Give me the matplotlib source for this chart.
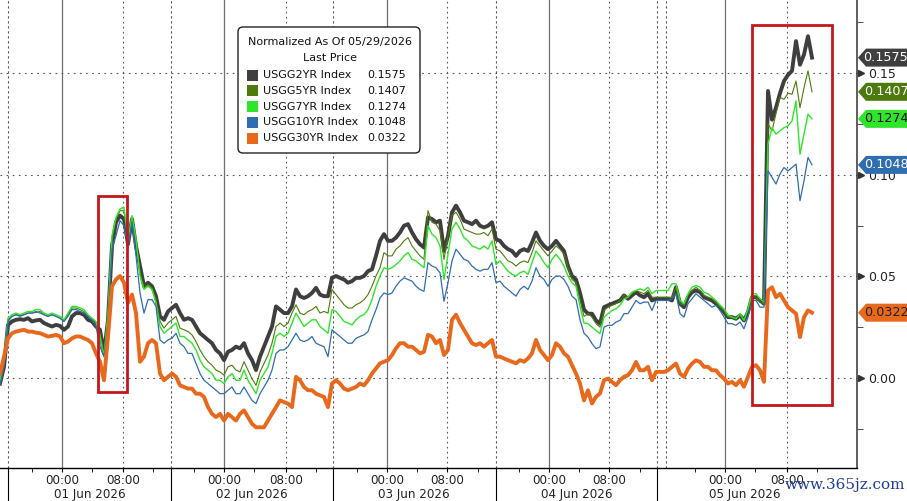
import numpy as np
import matplotlib
matplotlib.use("Agg")
import matplotlib.pyplot as plt
from matplotlib.patches import Rectangle, FancyBboxPatch, Polygon
import matplotlib.transforms as mtransforms

# ---------------- data (normalized yield change, sampled on a session-time grid) ----------------
series_names = ["USGG2YR Index", "USGG5YR Index", "USGG7YR Index", "USGG10YR Index", "USGG30YR Index"]
last_prices = [0.1575, 0.1407, 0.1274, 0.1048, 0.0322]

usgg2yr = [
    -0.0026, 0.0056, 0.0262, 0.0279, 0.0287, 0.0290, 0.0287, 0.0295, 0.0279, 0.0284, 0.0287, 0.0271, 0.0262,
    0.0254, 0.0262, 0.0257, 0.0238, 0.0254, 0.0304, 0.0320, 0.0320, 0.0312, 0.0287, 0.0279, 0.0254,
    0.0238, 0.0122, 0.0287, 0.0650, 0.0766, 0.0799, 0.0782, 0.0658, 0.0782, 0.0650, 0.0551, 0.0452, 0.0469,
    0.0452, 0.0403, 0.0304, 0.0287, 0.0328, 0.0345, 0.0361, 0.0320, 0.0287, 0.0295, 0.0287, 0.0254, 0.0221,
    0.0205, 0.0188, 0.0172, 0.0139, 0.0122, 0.0089, 0.0130, 0.0139, 0.0155, 0.0147, 0.0172, 0.0122, 0.0089,
    0.0040, 0.0106, 0.0155, 0.0205, 0.0254, 0.0353, 0.0337, 0.0320, 0.0320, 0.0353, 0.0436, 0.0403,
    0.0394, 0.0403, 0.0419, 0.0444, 0.0411, 0.0403, 0.0403, 0.0493, 0.0502, 0.0493, 0.0485, 0.0469, 0.0477,
    0.0493, 0.0493, 0.0502, 0.0526, 0.0535, 0.0601, 0.0675, 0.0708, 0.0675, 0.0675, 0.0691, 0.0716, 0.0749,
    0.0757, 0.0716, 0.0683, 0.0658, 0.0642, 0.0790, 0.0782, 0.0766, 0.0774, 0.0625, 0.0700, 0.0815, 0.0848,
    0.0815, 0.0774, 0.0766, 0.0757, 0.0774, 0.0749, 0.0741, 0.0749, 0.0766, 0.0683, 0.0675, 0.0650, 0.0634,
    0.0625, 0.0601, 0.0625, 0.0634, 0.0625, 0.0667, 0.0716, 0.0675, 0.0650, 0.0634, 0.0650, 0.0675, 0.0650,
    0.0625, 0.0551, 0.0502, 0.0485, 0.0419, 0.0337,
    0.0317, 0.0317, 0.0284, 0.0268, 0.0349, 0.0358, 0.0366, 0.0374, 0.0382, 0.0407, 0.0390, 0.0407, 0.0423,
    0.0407, 0.0398, 0.0415, 0.0382, 0.0390, 0.0390, 0.0390, 0.0390, 0.0382, 0.0447, 0.0366, 0.0349, 0.0398,
    0.0423, 0.0431, 0.0423, 0.0398, 0.0390, 0.0382, 0.0366, 0.0349, 0.0325, 0.0300, 0.0300, 0.0292, 0.0309,
    0.0284, 0.0325, 0.0398, 0.0398, 0.0382, 0.0366, 0.1411, 0.1270, 0.1330, 0.1400, 0.1460, 0.1490, 0.1510,
    0.1656, 0.1540, 0.1590, 0.1680, 0.1575,
]

usgg5yr = [
    -0.0018, 0.0081, 0.0287, 0.0304, 0.0312, 0.0307, 0.0312, 0.0320, 0.0320, 0.0323, 0.0328, 0.0312, 0.0304,
    0.0312, 0.0304, 0.0295, 0.0279, 0.0312, 0.0345, 0.0345, 0.0337, 0.0328, 0.0304, 0.0287, 0.0271,
    0.0221, 0.0114, 0.0304, 0.0683, 0.0782, 0.0823, 0.0823, 0.0675, 0.0790, 0.0667, 0.0518, 0.0444, 0.0460,
    0.0444, 0.0386, 0.0279, 0.0246, 0.0271, 0.0287, 0.0304, 0.0246, 0.0238, 0.0229, 0.0213, 0.0180, 0.0139,
    0.0106, 0.0081, 0.0064, 0.0040, 0.0031, 0.0015, 0.0056, 0.0064, 0.0040, 0.0031, 0.0081, 0.0040, -0.0002,
    -0.0035, 0.0031, 0.0073, 0.0114, 0.0172, 0.0254, 0.0271, 0.0254, 0.0271, 0.0320, 0.0361, 0.0320,
    0.0312, 0.0328, 0.0337, 0.0353, 0.0320, 0.0328, 0.0320, 0.0436, 0.0411, 0.0386, 0.0361, 0.0345, 0.0345,
    0.0361, 0.0370, 0.0386, 0.0411, 0.0452, 0.0502, 0.0543, 0.0617, 0.0601, 0.0601, 0.0634, 0.0650, 0.0675,
    0.0691, 0.0650, 0.0625, 0.0601, 0.0584, 0.0823, 0.0766, 0.0757, 0.0724, 0.0584, 0.0700, 0.0799, 0.0815,
    0.0782, 0.0733, 0.0724, 0.0716, 0.0708, 0.0708, 0.0716, 0.0700, 0.0733, 0.0634, 0.0625, 0.0601, 0.0576,
    0.0568, 0.0551, 0.0568, 0.0576, 0.0568, 0.0617, 0.0675, 0.0650, 0.0625, 0.0601, 0.0625, 0.0650, 0.0634,
    0.0609, 0.0543, 0.0485, 0.0469, 0.0386, 0.0304,
    0.0317, 0.0300, 0.0268, 0.0251, 0.0333, 0.0349, 0.0358, 0.0366, 0.0382, 0.0407, 0.0398, 0.0415, 0.0431,
    0.0423, 0.0415, 0.0431, 0.0398, 0.0398, 0.0398, 0.0398, 0.0398, 0.0398, 0.0447, 0.0366, 0.0358, 0.0407,
    0.0431, 0.0447, 0.0431, 0.0407, 0.0398, 0.0390, 0.0374, 0.0349, 0.0333, 0.0300, 0.0300, 0.0292, 0.0309,
    0.0284, 0.0333, 0.0398, 0.0398, 0.0374, 0.0366, 0.1250, 0.1215, 0.1300, 0.1380, 0.1370, 0.1400, 0.1395,
    0.1460, 0.1329, 0.1427, 0.1510, 0.1407,
]

usgg7yr = [
    -0.0010, 0.0089, 0.0295, 0.0312, 0.0320, 0.0312, 0.0320, 0.0328, 0.0328, 0.0337, 0.0337, 0.0320, 0.0312,
    0.0320, 0.0312, 0.0304, 0.0287, 0.0320, 0.0353, 0.0353, 0.0345, 0.0337, 0.0312, 0.0295, 0.0279,
    0.0205, 0.0106, 0.0320, 0.0700, 0.0790, 0.0832, 0.0840, 0.0683, 0.0799, 0.0683, 0.0502, 0.0436, 0.0452,
    0.0436, 0.0370, 0.0254, 0.0221, 0.0238, 0.0254, 0.0271, 0.0205, 0.0205, 0.0188, 0.0172, 0.0139, 0.0089,
    0.0056, 0.0040, 0.0023, -0.0010, -0.0010, -0.0026, 0.0007, 0.0023, -0.0010, -0.0010, 0.0040, -0.0010,
    -0.0043, -0.0076, -0.0010, 0.0023, 0.0056, 0.0122, 0.0205, 0.0221, 0.0205, 0.0221, 0.0271, 0.0320, 0.0287,
    0.0254, 0.0271, 0.0287, 0.0287, 0.0254, 0.0238, 0.0221, 0.0337, 0.0328, 0.0304, 0.0279, 0.0271, 0.0262,
    0.0287, 0.0304, 0.0312, 0.0337, 0.0386, 0.0452, 0.0502, 0.0543, 0.0535, 0.0543, 0.0559, 0.0576, 0.0601,
    0.0617, 0.0584, 0.0576, 0.0559, 0.0543, 0.0749, 0.0708, 0.0691, 0.0650, 0.0485, 0.0609, 0.0733, 0.0766,
    0.0733, 0.0691, 0.0675, 0.0650, 0.0642, 0.0634, 0.0650, 0.0634, 0.0675, 0.0559, 0.0576, 0.0551, 0.0526,
    0.0510, 0.0502, 0.0518, 0.0526, 0.0510, 0.0568, 0.0625, 0.0601, 0.0568, 0.0543, 0.0584, 0.0609, 0.0584,
    0.0551, 0.0502, 0.0469, 0.0452, 0.0353, 0.0271,
    0.0268, 0.0251, 0.0235, 0.0219, 0.0300, 0.0317, 0.0333, 0.0341, 0.0358, 0.0390, 0.0398, 0.0423, 0.0431,
    0.0439, 0.0431, 0.0447, 0.0415, 0.0431, 0.0431, 0.0431, 0.0431, 0.0464, 0.0464, 0.0382, 0.0366, 0.0415,
    0.0447, 0.0456, 0.0447, 0.0423, 0.0415, 0.0398, 0.0382, 0.0358, 0.0341, 0.0309, 0.0300, 0.0292, 0.0317,
    0.0284, 0.0341, 0.0415, 0.0415, 0.0390, 0.0374, 0.1150, 0.1231, 0.1199, 0.1215, 0.1231, 0.1239, 0.1264,
    0.1362, 0.1101, 0.1199, 0.1297, 0.1274,
]

usgg10yr = [
    -0.0035, 0.0056, 0.0279, 0.0304, 0.0312, 0.0304, 0.0312, 0.0320, 0.0320, 0.0328, 0.0320, 0.0312, 0.0304,
    0.0312, 0.0304, 0.0295, 0.0279, 0.0304, 0.0337, 0.0337, 0.0328, 0.0320, 0.0304, 0.0287, 0.0254,
    0.0155, 0.0106, 0.0271, 0.0634, 0.0700, 0.0774, 0.0749, 0.0642, 0.0766, 0.0601, 0.0419, 0.0320, 0.0386,
    0.0386, 0.0353, 0.0188, 0.0172, 0.0188, 0.0196, 0.0221, 0.0172, 0.0155, 0.0122, 0.0122, 0.0073, 0.0023,
    -0.0010, -0.0026, -0.0043, -0.0059, -0.0076, -0.0076, -0.0059, -0.0043, -0.0076, -0.0076, -0.0043,
    -0.0076, -0.0109, -0.0125, -0.0076, -0.0043, -0.0010, 0.0040, 0.0122, 0.0139, 0.0139, 0.0155, 0.0188,
    0.0221, 0.0188,
    0.0180, 0.0188, 0.0205, 0.0172, 0.0163, 0.0155, 0.0106, 0.0238, 0.0221, 0.0205, 0.0188, 0.0172, 0.0172,
    0.0196, 0.0205, 0.0213, 0.0229, 0.0287, 0.0337, 0.0394, 0.0419, 0.0411, 0.0419, 0.0452, 0.0477, 0.0493,
    0.0485, 0.0477, 0.0452, 0.0436, 0.0427, 0.0568, 0.0551, 0.0543, 0.0518, 0.0378, 0.0469, 0.0576, 0.0634,
    0.0609, 0.0584, 0.0576, 0.0551, 0.0535, 0.0526, 0.0535, 0.0535, 0.0568, 0.0469, 0.0477, 0.0452, 0.0436,
    0.0419, 0.0403, 0.0436, 0.0452, 0.0436, 0.0477, 0.0543, 0.0502, 0.0485, 0.0452, 0.0485, 0.0502, 0.0502,
    0.0485, 0.0452, 0.0403, 0.0386, 0.0287, 0.0221,
    0.0202, 0.0170, 0.0145, 0.0154, 0.0251, 0.0260, 0.0260, 0.0276, 0.0284, 0.0317, 0.0317, 0.0349, 0.0382,
    0.0366, 0.0374, 0.0374, 0.0333, 0.0382, 0.0382, 0.0382, 0.0382, 0.0390, 0.0415, 0.0317, 0.0300, 0.0366,
    0.0390, 0.0415, 0.0398, 0.0382, 0.0366, 0.0349, 0.0358, 0.0333, 0.0300, 0.0268, 0.0268, 0.0260, 0.0276,
    0.0243, 0.0300, 0.0382, 0.0382, 0.0349, 0.0349, 0.1019, 0.0986, 0.0954, 0.1003, 0.1035, 0.1019, 0.1035,
    0.1052, 0.0872, 0.0970, 0.1084, 0.1048,
]

usgg30yr = [
    0.0023, 0.0106, 0.0196, 0.0221, 0.0229, 0.0234, 0.0238, 0.0229, 0.0229, 0.0224, 0.0221, 0.0213, 0.0205,
    0.0208, 0.0213, 0.0205, 0.0172, 0.0180, 0.0196, 0.0205, 0.0205, 0.0196, 0.0188, 0.0172, 0.0122,
    0.0081, -0.0010, 0.0205, 0.0452, 0.0485, 0.0502, 0.0469, 0.0370, 0.0411, 0.0320, 0.0081, 0.0106, 0.0172,
    0.0188, 0.0172, 0.0023, -0.0010, 0.0007, 0.0023, 0.0007, -0.0035, -0.0043, -0.0051, -0.0051, -0.0076,
    -0.0076, -0.0092, -0.0142, -0.0175, -0.0191, -0.0175, -0.0208, -0.0175, -0.0191, -0.0208, -0.0175,
    -0.0158, -0.0191, -0.0224, -0.0241, -0.0241, -0.0241, -0.0208, -0.0175, -0.0142, -0.0109, -0.0117,
    -0.0125, -0.0142, 0.0007, -0.0010,
    -0.0043, -0.0059, -0.0059, -0.0076, -0.0084, -0.0092, -0.0142, -0.0026, -0.0010, -0.0026, -0.0051,
    -0.0059, -0.0051, -0.0043, -0.0026, -0.0035, -0.0010, 0.0023, 0.0048, 0.0073, 0.0081, 0.0089, 0.0114,
    0.0147, 0.0172, 0.0172, 0.0155, 0.0155, 0.0139, 0.0122, 0.0130, 0.0213, 0.0205, 0.0172, 0.0188, 0.0114,
    0.0139, 0.0287, 0.0312, 0.0271, 0.0238, 0.0205, 0.0172, 0.0163, 0.0172, 0.0155, 0.0172, 0.0188, 0.0106,
    0.0106, 0.0097, 0.0089, 0.0081, 0.0073, 0.0089, 0.0081, 0.0097, 0.0122, 0.0188, 0.0139, 0.0114, 0.0089,
    0.0114, 0.0172, 0.0155, 0.0122, 0.0106, 0.0064, 0.0023, -0.0026, -0.0109,
    -0.0059, -0.0124, -0.0091, -0.0075, -0.0010, -0.0002, -0.0018, -0.0034, -0.0010, 0.0007, 0.0015, 0.0039,
    0.0080, 0.0039, 0.0039, 0.0056, -0.0010, 0.0031, 0.0031, 0.0031, 0.0039, 0.0056, 0.0072, 0.0023, 0.0007,
    0.0047, 0.0072, 0.0088, 0.0080, 0.0056, 0.0056, 0.0039, 0.0039, 0.0015, -0.0002, -0.0026, -0.0018,
    -0.0034, -0.0010, -0.0042, 0.0007, 0.0056, 0.0064, 0.0039, -0.0018, 0.0431, 0.0447, 0.0398, 0.0415,
    0.0382, 0.0349, 0.0333, 0.0317, 0.0202, 0.0300, 0.0333, 0.0322,
]

# x axis (session-time units)
day_labels = ["01 Jun 2026", "02 Jun 2026", "03 Jun 2026", "04 Jun 2026", "05 Jun 2026"]
hour_labels = ["00:00", "08:00"]

# ---------------- layout / style ----------------
W, H = 907, 501
plt.rcParams['font.family'] = ['DejaVu Sans']
fig = plt.figure(figsize=(W / 100, H / 100), dpi=100)
fig.patch.set_facecolor('white')
ax = fig.add_axes([0, 33 / H, 857 / W, 468 / H])
ax.set_facecolor('white')

step = 4
t = np.arange(len(usgg2yr)) * step
ax.set_xlim(0, 857)
ax.set_ylim(-0.0441, 0.1858)

midnight_pos = [62, 224, 387, 549, 725]
eight_pos = [123, 286, 447, 609, 787]
break_pos = [8, 171, 333, 496, 657, 666]
break_below = [8, 171, 333, 496, 657]
minor_pos = [32, 92, 153, 194, 254, 316, 357, 417, 478, 519, 579, 640, 695, 755, 817]
day_label_pos = [90, 252, 414, 577, 745]

# grid
for x in midnight_pos:
    ax.axvline(x, color='#6e6e6e', lw=0.9, zorder=1)
for x in eight_pos:
    ax.axvline(x, color='#555555', lw=0.8, ls=(0, (1.5, 3)), zorder=1)
for x in break_pos:
    ax.axvline(x, color='#555555', lw=0.8, ls=(0, (2, 2.5)), zorder=1)
for yv in [0.0, 0.05, 0.10, 0.15]:
    ax.axhline(yv, color='#555555', lw=0.8, ls=(0, (1.5, 4)), zorder=1)

colors = ['#3f3f3f', '#4d7a0c', '#2fe52a', '#2f6db0', '#e8681c']
widths = [2.8, 0.8, 1.0, 0.9, 2.8]
data = [usgg2yr, usgg5yr, usgg7yr, usgg10yr, usgg30yr]
for vals, c, lw in zip(data, colors, widths):
    ax.plot(t, vals, color=c, lw=lw, solid_joinstyle='round', zorder=3)

# highlight boxes (data coordinates)
highlights = [(98, 127, -0.0067, 0.0895), (752, 832, -0.0131, 0.1735)]
for x0, x1, y0, y1 in highlights:
    ax.add_patch(Rectangle((x0, y0), x1 - x0, y1 - y0, fill=False, ec='#c4161c', lw=2.0, zorder=5))

# spines
for s in ['left', 'top']:
    ax.spines[s].set_visible(False)
ax.spines['bottom'].set_color('black')
ax.spines['bottom'].set_linewidth(1.0)
ax.spines['right'].set_color('#333333')
ax.spines['right'].set_linewidth(1.1)

# x ticks
major_x = sorted(midnight_pos + eight_pos)
ax.set_xticks(major_x)
ax.set_xticklabels([hour_labels[0] if p in midnight_pos else hour_labels[1] for p in major_x])
ax.set_xticks(minor_pos, minor=True)
ax.tick_params(axis='x', which='major', length=3, direction='out', color='black', pad=1.5,
               labelsize=8.6, labelcolor='#222222')
ax.tick_params(axis='x', which='minor', length=3, direction='out', color='black')
for x in break_below:
    ax.plot([x, x], [0, -0.075], transform=ax.get_xaxis_transform(), color='black', lw=0.8, clip_on=False)
for x, lab in zip(day_label_pos, day_labels):
    ax.text(x, -0.056, lab, transform=ax.get_xaxis_transform(), ha='center', va='center',
            fontsize=8.6, color='#222222')

# y ticks on right
ax.yaxis.tick_right()
yt = [0.0, 0.05, 0.10, 0.15]
ax.set_yticks(yt)
ax.set_yticklabels(["0.00", "0.05", "0.10", "0.15"])
ax.set_yticks([-0.025, 0.025, 0.075, 0.125, 0.175], minor=True)
ax.tick_params(axis='y', which='major', length=0, pad=8, labelsize=9, labelcolor='#222222')
ax.tick_params(axis='y', which='minor', length=4, direction='out', color='#333333')
ax.plot(np.full(len(yt), 1.0045), yt, transform=ax.get_yaxis_transform(), marker='>', ls='none',
        ms=5, color='#333333', clip_on=False, zorder=6)

# last-price tags on the right
ident = mtransforms.IdentityTransform()
fig.canvas.draw()
tag_text_colors = ['white', 'white', '#111111', 'white', '#222222']
x_tip = ax.transAxes.transform((1.0, 0))[0] + 1
for v, c, tc in zip(last_prices, colors, tag_text_colors):
    yc = ax.transData.transform((0, v))[1]
    h = 9
    poly = Polygon([(x_tip, yc), (x_tip + 8, yc + h), (W + 5, yc + h), (W + 5, yc - h), (x_tip + 8, yc - h)],
                   closed=True, transform=ident, fc=c, ec='none', zorder=10)
    fig.add_artist(poly)
    fig.text(x_tip + 28, yc, f"{v:.4f}", transform=ident, ha='center', va='center', fontsize=9.2,
             color=tc, zorder=11)

# legend box
lx0, ly_top, lw_, lh = 238, 27, 182, 126
box = FancyBboxPatch((lx0, H - ly_top - lh), lw_, lh, boxstyle="round,pad=0,rounding_size=5",
                     transform=ident, fc='white', ec='#222222', lw=1.0, zorder=12)
fig.add_artist(box)
fig.text(lx0 + lw_ / 2 + 1, H - 42, "Normalized As Of 05/29/2026", transform=ident, ha='center',
         va='center', fontsize=8.0, color='#111111', zorder=13)
fig.text(lx0 + lw_ / 2 + 1, H - 58, "Last Price", transform=ident, ha='center', va='center',
         fontsize=8.0, color='#111111', zorder=13)
for i, (name, v, c) in enumerate(zip(series_names, last_prices, colors)):
    yc = H - (75 + i * 15.8)
    fig.add_artist(Rectangle((247, yc - 5.5), 11, 11, transform=ident, fc=c, ec='none', zorder=13))
    fig.text(263, yc, name, transform=ident, ha='left', va='center', fontsize=8.0, color='#111111', zorder=13)
    fig.text(406, yc, f"{v:.4f}", transform=ident, ha='right', va='center', fontsize=8.0,
             color='#111111', zorder=13)

# watermark
fig.text(845, H - 485, "www.365jz.com", transform=ident, ha='center', va='center', fontsize=11,
         family=['DejaVu Serif'], color='#1f3c96', zorder=14)

fig.savefig("out.png", dpi=100, facecolor='white')
